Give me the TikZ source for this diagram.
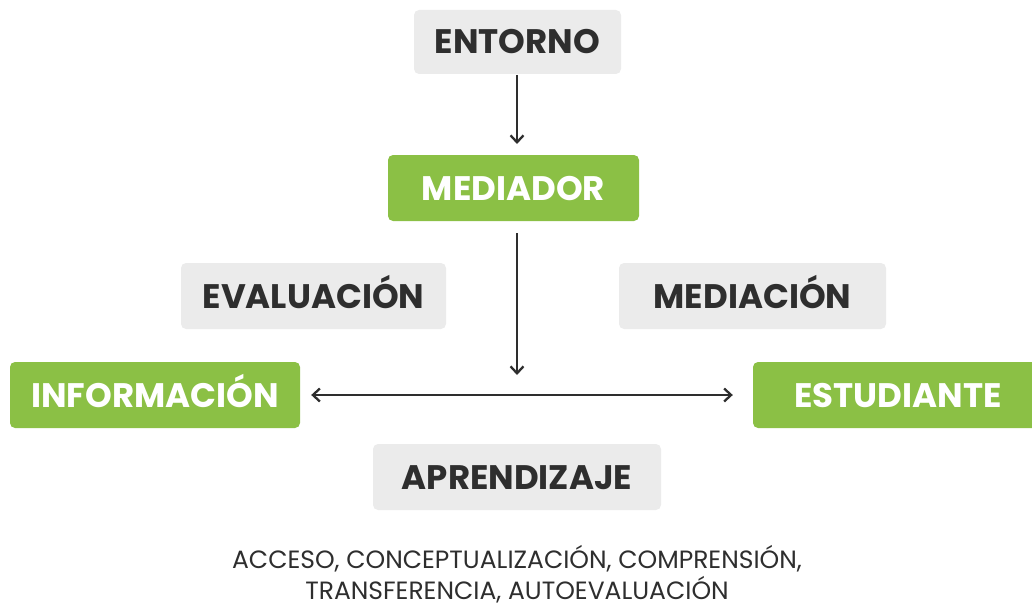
\documentclass[tikz,border=0pt]{standalone}
\usepackage{fontspec}
\setmainfont{Poppins}
\usetikzlibrary{arrows.meta}
\definecolor{boxgreen}{HTML}{8BC045}
\definecolor{boxgray}{HTML}{EBEBEB}
\definecolor{txtdark}{HTML}{2E2E2E}
\tikzset{
  boxbase/.style={rounded corners=5pt, font=\fontsize{34}{40}\selectfont\bfseries, inner sep=0pt, text height=24pt, text depth=0pt},
  graybox/.style={boxbase, fill=boxgray, text=txtdark},
  greenbox/.style={boxbase, fill=boxgreen, text=white},
  tip/.tip={Straight Barb[length=7pt,width=13pt,line width=2.3pt]},
  conn/.style={draw=txtdark, line width=2.3pt, -tip},
}
\begin{document}
\begin{tikzpicture}[x=1pt,y=-1pt]
\useasboundingbox (0,0) rectangle (1032,607);
\node[graybox, minimum width=207pt, minimum height=64pt] (entorno) at (517.5,42) {ENTORNO};
\node[greenbox, minimum width=251pt, minimum height=66pt] (mediador) at (513.5,188) {MEDIADOR};
\node[graybox, minimum width=265pt, minimum height=66pt] (evaluacion) at (313.5,296) {EVALUACIÓN};
\node[graybox, minimum width=267pt, minimum height=66pt] (mediacion) at (752.5,296) {MEDIACIÓN};
\node[greenbox, minimum width=290pt, minimum height=66pt] (informacion) at (155,395) {INFORMACIÓN};
\node[greenbox, minimum width=290pt, minimum height=66pt] (estudiante) at (898,395) {ESTUDIANTE};
\node[graybox, minimum width=288pt, minimum height=66pt] (aprendizaje) at (517,477) {APRENDIZAJE};
\node[text=txtdark, font=\fontsize{25}{31}\selectfont, align=center] (procesos) at (517,574) {ACCESO, CONCEPTUALIZACIÓN, COMPRENSIÓN,\\TRANSFERENCIA, AUTOEVALUACIÓN};
\coordinate (top) at (517,75);
\coordinate (topend) at (517,144);
\coordinate (midstart) at (517,233);
\coordinate (mid) at (517,375);
\draw[conn] (top) -- (topend);
\draw[conn] (midstart) -- (mid);
\draw[conn, tip-tip] ([xshift=11pt]informacion.east) -- ([xshift=-20pt]estudiante.west);
\end{tikzpicture}
\end{document}
